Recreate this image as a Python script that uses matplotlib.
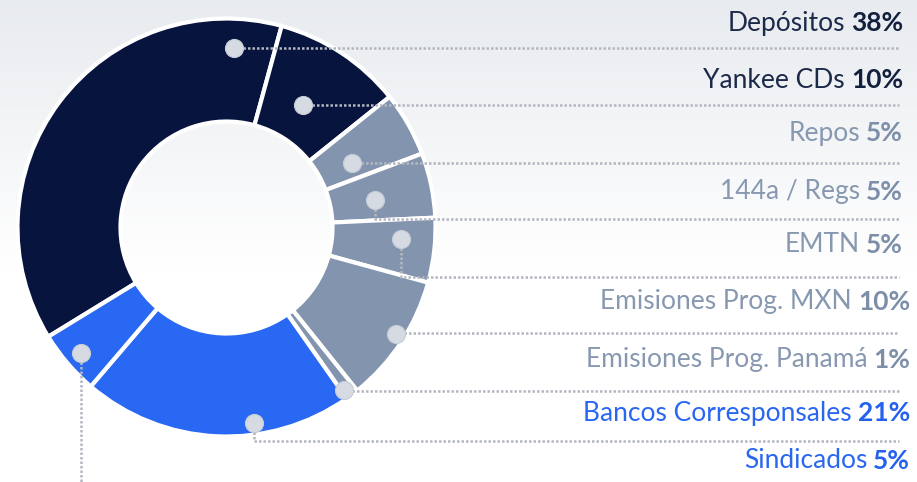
import numpy as np
import matplotlib
matplotlib.use("Agg")
import matplotlib.pyplot as plt

# funding mix
names = ["Depósitos", "Yankee CDs", "Repos", "144a / Regs", "EMTN",
         "Emisiones Prog. MXN", "Emisiones Prog. Panamá",
         "Bancos Corresponsales", "Sindicados"]
shares = [38, 10, 5, 5, 5, 10, 1, 21, 5]
groups = ["navy", "navy", "gray", "gray", "gray", "gray", "gray", "blue", "blue"]

slice_col = {"navy": "#06143e", "gray": "#8394ae", "blue": "#2968f2"}
text_col = {"navy": "#1c2a49", "gray": "#8798b0", "blue": "#2a67f0"}
pct_col = {"navy": "#13203d", "gray": "#7d8ea8", "blue": "#2461ee"}

# layout (pixels, y measured from the top of the image)
W, H = 917, 482
cx, cy = 226.5, 227.5
R, r_in = 209, 106
dot_frac = [0.906, 0.464, 0.64, 0.57, 0.36, 0.467, 0.8, 0.36, 0.48]
dot_rad = [180, 144, 141, 151, 175, 200, 201, 197, 192]
line_y = [48, 105, 163, 219, 277, 333, 391, 441, None]
label_y = [23, 80, 133, 192, 245, 302, 360, 413, 461]
label_x = [903, 903, 903, 903, 903, 910, 910, 910, 910]
line_end = 899

plt.rcParams['font.family'] = ['Lato', 'DejaVu Sans']

fig = plt.figure(figsize=(W / 100, H / 100), dpi=100)
ax = fig.add_axes([0, 0, 1, 1])

# soft grey-to-white background
t = np.clip(np.linspace(0, 1, H) * H / 270, 0, 1)[:, None, None]
top = np.array([232, 235, 239]) / 255
bg = top * (1 - t) + np.ones(3) * t
bg = np.repeat(bg, 2, axis=1)
ax.imshow(bg, extent=(0, W, 0, H), aspect='auto', zorder=0)

def up(y):
    return H - y

wedges, _ = ax.pie(shares, colors=[slice_col[g] for g in groups],
                   startangle=90 - 238.5, counterclock=False,
                   center=(cx, up(cy)), radius=R, frame=True,
                   wedgeprops=dict(width=R - r_in, edgecolor='white', linewidth=3))
for w in wedges:
    w.set_zorder(2)

dot_color = "#d6dbe3"
lead_color = "#b3b8c0"
for i, w in enumerate(wedges):
    ang = np.radians(w.theta2 - dot_frac[i] * (w.theta2 - w.theta1))
    dx = cx + dot_rad[i] * np.cos(ang)
    dy = up(cy) + dot_rad[i] * np.sin(ang)
    if line_y[i] is None:
        xs, ys = [dx, dx], [dy, -10]
    else:
        xs, ys = [dx, dx, line_end], [dy, up(line_y[i]), up(line_y[i])]
    ax.plot(xs, ys, color=lead_color, lw=1.8, dashes=(1, 0.8),
            solid_capstyle='butt', zorder=3)
    ax.plot(dx, dy, 'o', ms=13, color=dot_color, mec="#c6ccd6", mew=0.8, zorder=4)

fig.canvas.draw()
renderer = fig.canvas.get_renderer()
for i, name in enumerate(names):
    g = groups[i]
    pct = ax.text(label_x[i], up(label_y[i]), f"{shares[i]}%", ha='right', va='center',
                  fontsize=19, fontweight='bold', color=pct_col[g], zorder=5)
    pw = pct.get_window_extent(renderer).width
    ax.text(label_x[i] - pw - 6, up(label_y[i]), name, ha='right', va='center',
            fontsize=19, color=text_col[g], zorder=5)

ax.set_xlim(0, W)
ax.set_ylim(0, H)
ax.set_aspect('auto')
ax.axis('off')

fig.savefig("out.png", dpi=100)
